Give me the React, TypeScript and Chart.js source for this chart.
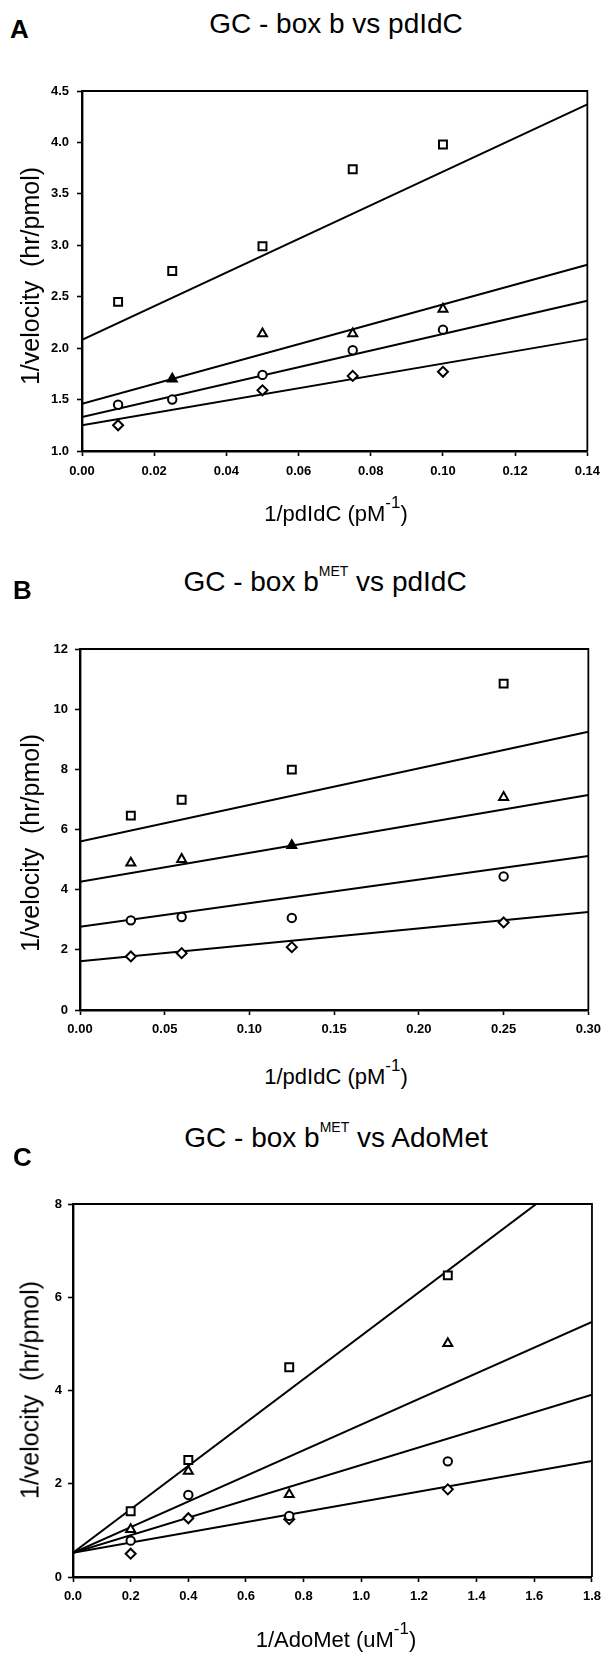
import React, { useEffect, useRef } from "react";
import { Chart, registerables } from "chart.js";

Chart.register(...registerables);

// ---------- Panel A : GC - box b vs pdIdC ----------
const xA = [0.01, 0.025, 0.05, 0.075, 0.1];
const squareA = [2.45, 2.75, 2.99, 3.74, 3.98];
const triangleA = [null, 1.7, 2.14, 2.14, 2.38];
const circleA = [1.45, 1.5, 1.74, 1.98, 2.18];
const diamondA = [1.25, null, 1.59, 1.73, 1.77];
const fitXA = [0, 0.14];
const fitSquareA = [2.08, 4.37];
const fitTriangleA = [1.46, 2.81];
const fitCircleA = [1.33, 2.46];
const fitDiamondA = [1.25, 2.09];
const xTicksA = [0, 0.02, 0.04, 0.06, 0.08, 0.1, 0.12, 0.14];
const yTicksA = [1.0, 1.5, 2.0, 2.5, 3.0, 3.5, 4.0, 4.5];

// ---------- Panel B : GC - box bMET vs pdIdC ----------
const xB = [0.03, 0.06, 0.125, 0.25];
const squareB = [6.46, 6.99, 7.99, 10.85];
const triangleB = [4.89, 5.01, 5.47, 7.07];
const circleB = [2.98, 3.09, 3.06, 4.44];
const diamondB = [1.78, 1.89, 2.09, 2.91];
const fitXB = [0, 0.3];
const fitSquareB = [5.6, 9.25];
const fitTriangleB = [4.26, 7.15];
const fitCircleB = [2.77, 5.12];
const fitDiamondB = [1.62, 3.26];
const xTicksB = [0, 0.05, 0.1, 0.15, 0.2, 0.25, 0.3];
const yTicksB = [0, 2, 4, 6, 8, 10, 12];

// ---------- Panel C : GC - box bMET vs AdoMet ----------
const xC = [0.2, 0.4, 0.75, 1.3];
const squareC = [1.41, 2.51, 4.5, 6.47];
const triangleC = [1.02, 2.27, 1.77, 5.01];
const circleC = [0.78, 1.76, 1.31, 2.48];
const diamondC = [0.5, 1.26, 1.24, 1.88];
const fitXC = [0, 1.8];
const fitSquareC = [0.52, 8.9];
const fitTriangleC = [0.52, 5.47];
const fitCircleC = [0.52, 3.91];
const fitDiamondC = [0.52, 2.49];
const xTicksC = [0, 0.2, 0.4, 0.6, 0.8, 1.0, 1.2, 1.4, 1.6, 1.8];
const yTicksC = [0, 2, 4, 6, 8];

const FONT = "'Liberation Sans', Arial, Helvetica, sans-serif";

type PanelCfg = {
  canvasTop: number;
  canvasH: number;
  plot: { left: number; right: number; top: number; bottom: number };
  x: number[];
  square: (number | null)[];
  triangle: (number | null)[];
  circle: (number | null)[];
  diamond: (number | null)[];
  filledTriangle: number;
  fitX: number[];
  fits: number[][];
  xTicks: number[];
  yTicks: number[];
  xDec: number;
  yDec: number;
  xPad: number;
  yPad: number;
};

const framePlugin = {
  id: "frameBox",
  afterDatasetsDraw(chart: any) {
    const { ctx, chartArea: a } = chart;
    ctx.save();
    ctx.strokeStyle = "#000";
    ctx.lineWidth = 1.8;
    ctx.beginPath();
    ctx.moveTo(a.left, a.top);
    ctx.lineTo(a.right, a.top);
    ctx.lineTo(a.right, a.bottom);
    ctx.stroke();
    ctx.restore();
  },
};

function Panel({ cfg }: { cfg: PanelCfg }) {
  const ref = useRef<HTMLCanvasElement | null>(null);
  useEffect(() => {
    if (!ref.current) return;
    const padTop = cfg.plot.top - cfg.canvasTop;
    const plotH = cfg.plot.bottom - cfg.plot.top;
    const xAxisH = cfg.canvasH - padTop - plotH;
    const pts = (ys: (number | null)[]) => cfg.x.map((x, i) => ({ x, y: ys[i] }));
    const fit = (ys: number[]) => cfg.fitX.map((x, i) => ({ x, y: ys[i] }));
    const markerBase = {
      showLine: false,
      pointBorderColor: "#000",
      pointBorderWidth: 2,
      order: 1,
    };
    const lineDs = cfg.fits.map((f) => ({
      data: fit(f),
      showLine: true,
      borderColor: "#000",
      borderWidth: 2,
      pointRadius: 0,
      order: 2,
    }));
    const triBg = cfg.x.map((_, i) => (i === cfg.filledTriangle ? "#000" : "#fff"));
    const tickFont = { family: FONT, size: 13, weight: "bold" as const };
    const chart = new Chart(ref.current, {
      type: "scatter",
      data: {
        datasets: [
          { ...markerBase, data: pts(cfg.square), pointStyle: "rect", pointRadius: 5.6, pointBackgroundColor: "#fff" },
          { ...markerBase, data: pts(cfg.triangle), pointStyle: "triangle", pointRadius: 5.2, pointBackgroundColor: triBg },
          { ...markerBase, data: pts(cfg.circle), pointStyle: "circle", pointRadius: 4.2, pointBackgroundColor: "#fff" },
          { ...markerBase, data: pts(cfg.diamond), pointStyle: "rectRot", pointRadius: 5, pointBackgroundColor: "#fff" },
          ...lineDs,
        ] as any,
      },
      options: {
        animation: false,
        responsive: false,
        maintainAspectRatio: false,
        devicePixelRatio: 1,
        events: [],
        layout: {
          padding: { top: padTop, left: 0, right: 608 - cfg.plot.right, bottom: 0 },
        },
        plugins: { legend: { display: false }, tooltip: { enabled: false }, title: { display: false } },
        scales: {
          x: {
            type: "linear",
            min: cfg.xTicks[0],
            max: cfg.xTicks[cfg.xTicks.length - 1],
            afterBuildTicks: (s: any) => {
              s.ticks = cfg.xTicks.map((v) => ({ value: v }));
            },
            afterFit: (s: any) => {
              s.height = xAxisH;
            },
            ticks: {
              callback: (v: any) => Number(v).toFixed(cfg.xDec),
              font: tickFont,
              color: "#000",
              padding: cfg.xPad,
              maxRotation: 0,
              autoSkip: false,
            },
            grid: { drawOnChartArea: false, drawTicks: true, tickLength: 5, tickWidth: 1.6, tickColor: "#000" },
            border: { display: true, color: "#000", width: 2.4 },
          },
          y: {
            type: "linear",
            min: cfg.yTicks[0],
            max: cfg.yTicks[cfg.yTicks.length - 1],
            afterBuildTicks: (s: any) => {
              s.ticks = cfg.yTicks.map((v) => ({ value: v }));
            },
            afterFit: (s: any) => {
              s.width = cfg.plot.left;
            },
            ticks: {
              callback: (v: any) => Number(v).toFixed(cfg.yDec),
              font: tickFont,
              color: "#000",
              padding: cfg.yPad,
              autoSkip: false,
            },
            grid: { drawOnChartArea: false, drawTicks: true, tickLength: 5, tickWidth: 1.6, tickColor: "#000" },
            border: { display: true, color: "#000", width: 2.4 },
          },
        },
      } as any,
      plugins: [framePlugin],
    });
    return () => chart.destroy();
  }, [cfg]);
  return (
    <canvas
      ref={ref}
      width={608}
      height={cfg.canvasH}
      style={{ position: "absolute", left: 0, top: cfg.canvasTop, width: 608, height: cfg.canvasH }}
    />
  );
}

const panelA: PanelCfg = {
  canvasTop: 71,
  canvasH: 425,
  plot: { left: 82, right: 592, top: 91, bottom: 451 },
  x: xA,
  square: squareA,
  triangle: triangleA,
  circle: circleA,
  diamond: diamondA,
  filledTriangle: 1,
  fitX: fitXA,
  fits: [fitSquareA, fitTriangleA, fitCircleA, fitDiamondA],
  xTicks: xTicksA,
  yTicks: yTicksA,
  xDec: 2,
  yDec: 1,
  xPad: 8,
  yPad: 8,
};

const panelB: PanelCfg = {
  canvasTop: 629,
  canvasH: 426,
  plot: { left: 80, right: 594, top: 649, bottom: 1010 },
  x: xB,
  square: squareB,
  triangle: triangleB,
  circle: circleB,
  diamond: diamondB,
  filledTriangle: 2,
  fitX: fitXB,
  fits: [fitSquareB, fitTriangleB, fitCircleB, fitDiamondB],
  xTicks: xTicksB,
  yTicks: yTicksB,
  xDec: 2,
  yDec: 0,
  xPad: 7,
  yPad: 7,
};

const panelC: PanelCfg = {
  canvasTop: 1184,
  canvasH: 436,
  plot: { left: 73, right: 599, top: 1204, bottom: 1577 },
  x: xC,
  square: squareC,
  triangle: triangleC,
  circle: circleC,
  diamond: diamondC,
  filledTriangle: -1,
  fitX: fitXC,
  fits: [fitSquareC, fitTriangleC, fitCircleC, fitDiamondC],
  xTicks: xTicksC,
  yTicks: yTicksC,
  xDec: 1,
  yDec: 0,
  xPad: 7,
  yPad: 6,
};

// text helper: positions by baseline (Liberation Sans, line-height 1)
function Txt({
  x,
  baseline,
  size,
  bold,
  center,
  children,
}: {
  x: number;
  baseline: number;
  size: number;
  bold?: boolean;
  center?: boolean;
  children: React.ReactNode;
}) {
  return (
    <div
      style={{
        position: "absolute",
        left: x,
        top: baseline - 0.8467 * size,
        fontFamily: FONT,
        fontSize: size,
        fontWeight: bold ? "bold" : "normal",
        lineHeight: 1,
        whiteSpace: "nowrap",
        color: "#000",
        transform: center ? "translateX(-50%)" : undefined,
      }}
    >
      {children}
    </div>
  );
}

function Sup({ size, rise, children }: { size: number; rise: number; children: React.ReactNode }) {
  return (
    <span style={{ fontSize: size, position: "relative", top: -rise, lineHeight: 1 }}>{children}</span>
  );
}

function YTitle({ cx, cy }: { cx: number; cy: number }) {
  return (
    <div
      style={{
        position: "absolute",
        left: cx,
        top: cy,
        fontFamily: FONT,
        fontSize: 25,
        lineHeight: 1,
        whiteSpace: "nowrap",
        color: "#000",
        transform: "translate(-50%, -50%) rotate(-90deg)",
      }}
    >
      1/velocity&nbsp; (hr/pmol)
    </div>
  );
}

export default function App() {
  return (
    <div
      style={{
        position: "absolute",
        left: 0,
        top: 0,
        width: 608,
        height: 1654,
        background: "#fff",
        overflow: "hidden",
      }}
    >
      {/* Panel A */}
      <Txt x={10} baseline={38} size={26} bold>
        A
      </Txt>
      <Txt x={336} baseline={34} size={28} center>
        GC - box b vs pdIdC
      </Txt>
      <Panel cfg={panelA} />
      <YTitle cx={30} cy={276} />
      <Txt x={336} baseline={522} size={22} center>
        1/pdIdC (pM<Sup size={17} rise={13}>-1</Sup>)
      </Txt>

      {/* Panel B */}
      <Txt x={13} baseline={599} size={26} bold>
        B
      </Txt>
      <Txt x={325} baseline={592} size={28} center>
        GC - box b<Sup size={14} rise={15}>MET</Sup> vs pdIdC
      </Txt>
      <Panel cfg={panelB} />
      <YTitle cx={30} cy={843} />
      <Txt x={336} baseline={1085} size={22} center>
        1/pdIdC (pM<Sup size={17} rise={13}>-1</Sup>)
      </Txt>

      {/* Panel C */}
      <Txt x={13} baseline={1166} size={26} bold>
        C
      </Txt>
      <Txt x={336} baseline={1148} size={28} center>
        GC - box b<Sup size={14} rise={15}>MET</Sup> vs AdoMet
      </Txt>
      <Panel cfg={panelC} />
      <YTitle cx={30} cy={1390} />
      <Txt x={336} baseline={1648} size={22} center>
        1/AdoMet (uM<Sup size={17} rise={13}>-1</Sup>)
      </Txt>
    </div>
  );
}
